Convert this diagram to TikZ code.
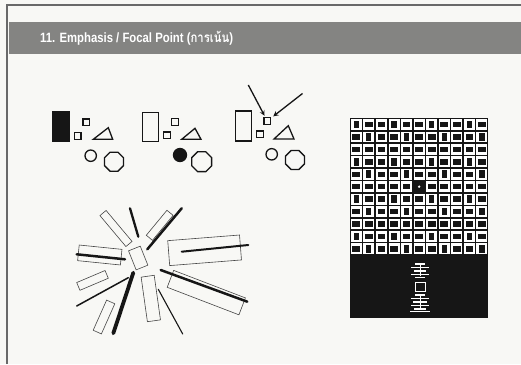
\documentclass[tikz,border=0pt]{standalone}
\usepackage{fontspec}
\setmainfont{Liberation Sans}
\newfontfamily\thaifont[Script=Thai]{Loma}
\usetikzlibrary{shapes.geometric}
\definecolor{paper}{RGB}{248,248,245}
\definecolor{band}{RGB}{132,132,130}
\definecolor{frameline}{RGB}{105,105,105}
\definecolor{ink}{RGB}{22,22,22}
\tikzset{
  shp/.style={draw=ink, line width=1.3pt, inner sep=0pt},
  sq/.style={shp, minimum size=6.6pt},
  tall/.style={shp, minimum width=16pt, minimum height=29pt},
  ring/.style={shp, circle, minimum size=11.4pt},
  octa/.style={shp, regular polygon, regular polygon sides=8, minimum size=20.5pt},
  rbox/.style={draw=ink!80, line width=0.6pt},
  bar/.style={ink, line cap=round},
}
\begin{document}
\begin{tikzpicture}[x=1pt, y=-1pt, >=stealth]
	% 1. 背景与边框
	\useasboundingbox (0,0) rectangle (521,364);
	\fill[paper] (0,0) rectangle (521,364);
	\draw[frameline, line width=1.2pt] (7,364) -- (7,5) -- (521,5);
	\fill[band] (9,22) rectangle (521,54);
	\node[anchor=base west, text=white, font=\bfseries\fontsize{13.5}{15}\selectfont, xscale=0.84, inner sep=0pt]
		(title) at (40,42.5) {11. Emphasis / Focal Point ({\thaifont การเน้น})};
	
	% 2. 三组基本形
	\node[tall, fill=ink] (r1) at (61,126.5) {};
	\node[sq] (s1a) at (86.3,122.3) {};
	\node[sq] (s1b) at (77.8,136) {};
	\draw[shp] (93.3,139.3) -- (112.7,139.3) -- (108.3,127.7) -- cycle;
	\node[ring] (c1) at (90.7,155.7) {};
	\node[octa] (o1) at (114,161.7) {};
	
	\node[tall] (r2) at (150.8,127.2) {};
	\node[sq] (s2a) at (175,122) {};
	\node[sq] (s2b) at (167,135.3) {};
	\draw[shp] (181.7,139.3) -- (201,139.3) -- (195,128.3) -- cycle;
	\node[ring, fill=ink, minimum size=13pt] (c2) at (180,155) {};
	\node[octa, minimum size=21.5pt] (o2) at (201.7,161.7) {};
	
	\node[tall, minimum height=30pt] (r3) at (243.7,126) {};
	\node[sq] (tgt) at (267.3,121) {};
	\node[sq] (s3b) at (260,134.3) {};
	\draw[shp] (274,139) -- (294,139) -- (288.3,125.7) -- cycle;
	\node[ring] (c3) at (271.7,154.3) {};
	\node[octa] (o3) at (295,160) {};
	
	\coordinate (p1) at (248.3,85);
	\coordinate (p2) at (302.5,93.5);
	\draw[->, ink, line width=1.3pt, shorten >=1.5pt] (p1) -- (tgt);
	\draw[->, ink, line width=1.3pt, shorten >=2.5pt] (p2) -- (tgt);
	
	% 3. 放射状构图
	\foreach \cx/\cy/\len/\wid/\ang in {116/228.5/40.4/8/50, 159.7/225.3/32.4/8/-50.4,
		138.2/258/12.6/20.5/-21.8, 99.8/255/43/15.7/5.8, 204.6/250.3/72/25/-4.5,
		92.5/280.4/30.8/8.4/-23, 104/317/33/9/-66, 150.8/298.5/13.2/45/-8,
		206.3/292.6/76.8/18.1/21}
		\draw[rbox, shift={(\cx,\cy)}, rotate=-\ang] (-\len/2,-\wid/2) rectangle (\len/2,\wid/2);
	\foreach \ax/\ay/\bx/\by/\w in {130/208.3/138.3/236.7/2.3, 181.7/208.3/147.3/249.3/2.5,
		76.7/254.3/125/259.3/2.5, 181.7/251.7/248.3/245/2, 76.7/306/128.3/277.7/1.5,
		113.3/333.3/133.3/272.7/3.8, 160.7/270/247.3/301.7/2.5, 158.3/289.3/182.7/334/1.1}
		\draw[bar, line width=\w pt] (\ax,\ay) -- (\bx,\by);
	
	% 4. 网格图片与焦点
	\fill[ink] (350,118.3) rectangle (488.3,318.3);
	\foreach \i in {0,...,10}
		\foreach \j in {0,...,10} {
			\pgfmathsetmacro\cx{350+6.29+12.57*\i}
			\pgfmathsetmacro\cy{118.3+6.22+12.43*\j}
			\pgfmathtruncatemacro\ctr{and(\i==5,\j==5)}
			\pgfmathtruncatemacro\v{mod(\i*7+\j*4+\i*\j,3)}
			\ifnum\ctr=1
				\fill[white] (\cx,\cy) circle (1.3);
			\else
				\fill[white] (\cx-5.5,\cy-5.4) rectangle (\cx+5.5,\cy+5.4);
				\ifnum\v=0
					\fill[ink] (\cx-2.6,\cy-3.8) rectangle (\cx+2.6,\cy+3.8);
				\else
					\fill[ink] (\cx-3.9,\cy-2.7) rectangle (\cx+3.9,\cy+2.7);
				\fi
			\fi
		}
	
	% 5. 底部徽记
	\foreach \y/\h in {264/5, 267.5/9, 271/6, 274.5/9, 277.5/5, 295/5, 298.5/9, 302/7, 305.5/9, 309/6, 311.5/10}
		\draw[white, line width=1.1pt] (420-\h,\y) -- (420+\h,\y);
	\draw[white, line width=1pt] (420,263) -- (420,276) (420,294) -- (420,308);
	\draw[white, line width=1.6pt] (415.5,282.5) rectangle (425.5,291.5);
\end{tikzpicture}
\end{document}
